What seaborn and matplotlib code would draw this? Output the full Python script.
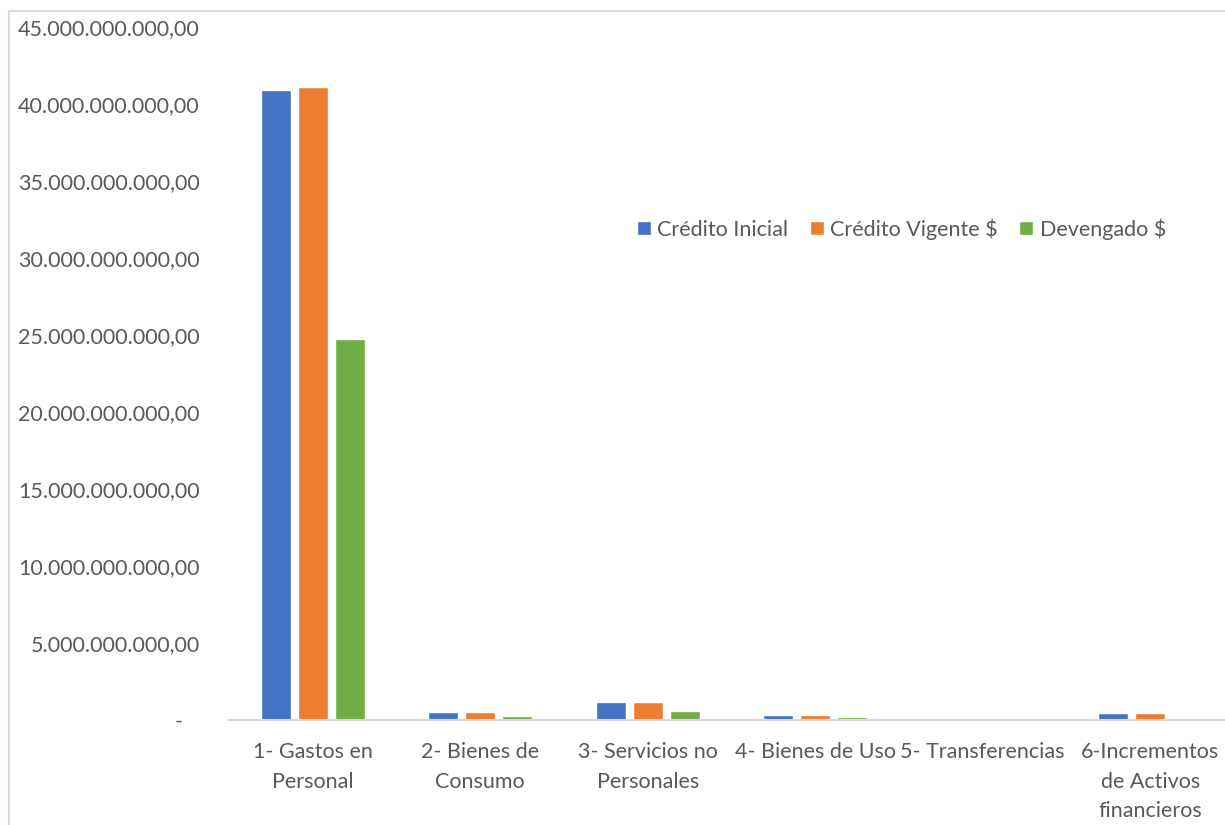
import matplotlib
matplotlib.use("Agg")
import matplotlib.pyplot as plt
import matplotlib.ticker as mticker
from matplotlib.patches import Rectangle
import seaborn as sns
import pandas as pd

categories = ["1- Gastos en\nPersonal", "2- Bienes de\nConsumo", "3- Servicios no\nPersonales",
              "4- Bienes de Uso", "5- Transferencias", "6-Incrementos\nde Activos\nfinancieros"]
series = ["Crédito Inicial", "Crédito Vigente $", "Devengado $"]
credito_inicial = [40.9e9, 0.50e9, 1.19e9, 0.32e9, 0.0, 0.47e9]
credito_vigente = [41.08e9, 0.52e9, 1.19e9, 0.32e9, 0.0, 0.47e9]
devengado = [24.74e9, 0.29e9, 0.60e9, 0.18e9, 0.0, 0.0]
colors = ["#4472C4", "#ED7D31", "#70AD47"]

rows = []
for s, vals in zip(series, [credito_inicial, credito_vigente, devengado]):
    for c, v in zip(categories, vals):
        rows.append({"cat": c, "serie": s, "val": v})
df = pd.DataFrame(rows)

sns.set_theme(style="white")
plt.rcParams["font.family"] = ["Lato", "DejaVu Sans"]
text_color = "#595959"
fs = 15.5

fig = plt.figure(figsize=(12.25, 8.25), dpi=100)
ax = fig.add_axes([229 / 1225, 1 - 720 / 825, 1005 / 1225, 693 / 825])

sns.barplot(data=df, x="cat", y="val", hue="serie", hue_order=series, palette=colors,
            width=0.663, gap=0.2, ax=ax, saturation=1, legend=True)

ax.set_ylim(0, 45e9)
ax.set_xlim(-0.5, 5.5)
ax.yaxis.set_major_locator(mticker.MultipleLocator(5e9))

def fmt(v, pos):
    if abs(v) < 1:
        return "-   "
    s = f"{v:,.2f}"
    return s.replace(",", "X").replace(".", ",").replace("X", ".")

ax.yaxis.set_major_formatter(mticker.FuncFormatter(fmt))
ax.set_xlabel("")
ax.set_ylabel("")
for sp in ["top", "right", "left"]:
    ax.spines[sp].set_visible(False)
ax.spines["bottom"].set_color("#d9d9d9")
ax.spines["bottom"].set_linewidth(1.5)
ax.tick_params(axis="both", length=0, labelsize=fs, colors=text_color)
ax.tick_params(axis="y", pad=21)
ax.tick_params(axis="x", pad=16)
for lbl in ax.get_xticklabels():
    lbl.set_linespacing(1.58)
ax.grid(False)

leg = ax.legend(loc="center left", bbox_to_anchor=((628 - 229) / 1005, (720 - 229) / 693),
                ncol=3, frameon=False, fontsize=fs, handlelength=0.65, handleheight=0.65,
                handletextpad=0.3, columnspacing=1.0, borderaxespad=0)
for t in leg.get_texts():
    t.set_color(text_color)

fig.patches.append(Rectangle((9 / 1225, -0.1), 1.2, 1 - 11 / 825 + 0.1, transform=fig.transFigure,
                             fill=False, edgecolor="#d9d9d9", linewidth=1.5, zorder=-1))

fig.savefig("out.png", dpi=100)
